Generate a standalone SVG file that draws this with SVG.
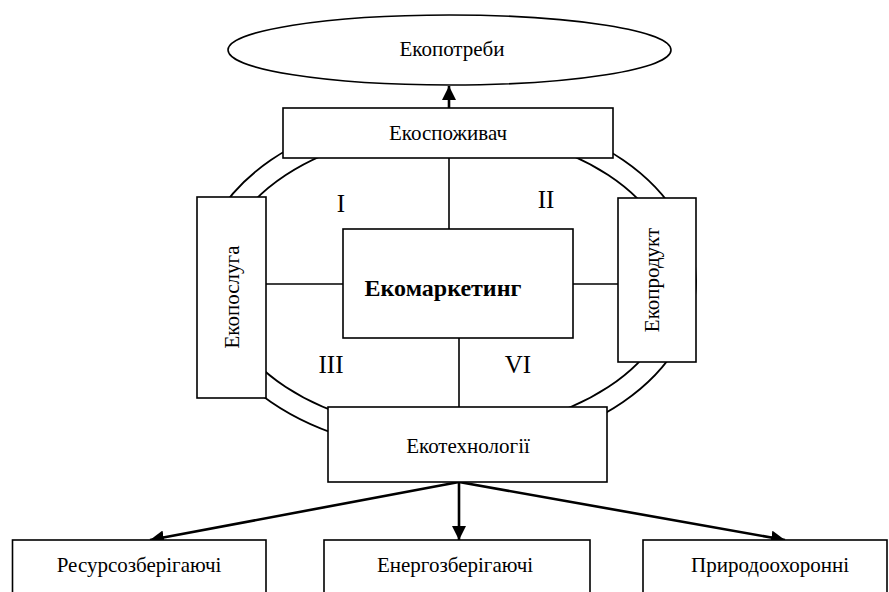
<svg xmlns="http://www.w3.org/2000/svg" width="889" height="592" viewBox="0 0 889 592">
<style>
.box{fill:#fff;stroke:#000;stroke-width:1.6}
.ring{fill:none;stroke:#000;stroke-width:1.8}
.ln{stroke:#000;stroke-width:1.6;fill:none}
.arr{stroke:#000;stroke-width:2.6;fill:none}
.t{font-family:"Liberation Serif","Times New Roman",serif;font-size:21px;fill:#000;text-anchor:middle}
.b{font-weight:bold;font-size:24px}
.n{font-size:25px}
</style>
<defs>
<marker id="ah" markerUnits="userSpaceOnUse" markerWidth="16" markerHeight="14" refX="14" refY="7" orient="auto">
<path d="M0,0 L14,7 L0,14 Z" fill="#000"/>
</marker>
</defs>
<rect width="889" height="592" fill="#fff"/>
<g id="ring">
<ellipse class="ring" cx="447" cy="281" rx="249" ry="171"/>
<ellipse class="ring" cx="447" cy="281" rx="228" ry="150"/>
</g>
<g id="connectors">
<line class="ln" x1="449" y1="158" x2="449" y2="229"/>
<line class="ln" x1="266" y1="284" x2="343" y2="284"/>
<line class="ln" x1="573" y1="284" x2="618" y2="284"/>
<line class="ln" x1="459" y1="338" x2="459" y2="407"/>
<line class="arr" x1="449" y1="108" x2="449" y2="86" marker-end="url(#ah)"/>
<line class="arr" x1="459" y1="482" x2="150" y2="540" marker-end="url(#ah)"/>
<line class="arr" x1="459" y1="482" x2="459" y2="540" marker-end="url(#ah)"/>
<line class="arr" x1="459" y1="482" x2="785" y2="540" marker-end="url(#ah)"/>
</g>
<g id="ekopotreby">
<ellipse cx="449.5" cy="50" rx="221.5" ry="35" fill="#fff" stroke="#000" stroke-width="1.6"/>
<text class="t" x="452" y="56">Екопотреби</text>
</g>
<g id="ekospozhyvach">
<rect class="box" x="283" y="108" width="330" height="50"/>
<text class="t" x="448" y="140">Екоспоживач</text>
</g>
<g id="ekomarketynh">
<rect class="box" x="343" y="229" width="230" height="109"/>
<text class="t b" x="443" y="296">Екомаркетинг</text>
</g>
<g id="ekoposluha">
<rect class="box" x="197" y="197" width="69" height="201"/>
<text class="t" transform="translate(239,297) rotate(-90)">Екопослуга</text>
</g>
<g id="ekoprodukt">
<rect class="box" x="618" y="198" width="78" height="164"/>
<text class="t" transform="translate(659,280) rotate(-90)">Екопродукт</text>
</g>
<g id="ekotekhnolohii">
<rect class="box" x="328" y="407" width="279" height="75"/>
<text class="t" x="468" y="453">Екотехнології</text>
</g>
<g id="numerals">
<text class="t n" x="341" y="212">I</text>
<text class="t n" x="546" y="208">II</text>
<text class="t n" x="331" y="373">III</text>
<text class="t n" x="518" y="373">VI</text>
</g>
<g id="resurso">
<rect class="box" x="12.5" y="540" width="253.5" height="60"/>
<text class="t" x="139" y="572">Ресурсозберігаючі</text>
</g>
<g id="enerho">
<rect class="box" x="324" y="540" width="266" height="60"/>
<text class="t" x="455" y="572">Енергозберігаючі</text>
</g>
<g id="pryrodo">
<rect class="box" x="643" y="540" width="244" height="60"/>
<text class="t" x="770" y="572">Природоохоронні</text>
</g>
</svg>
